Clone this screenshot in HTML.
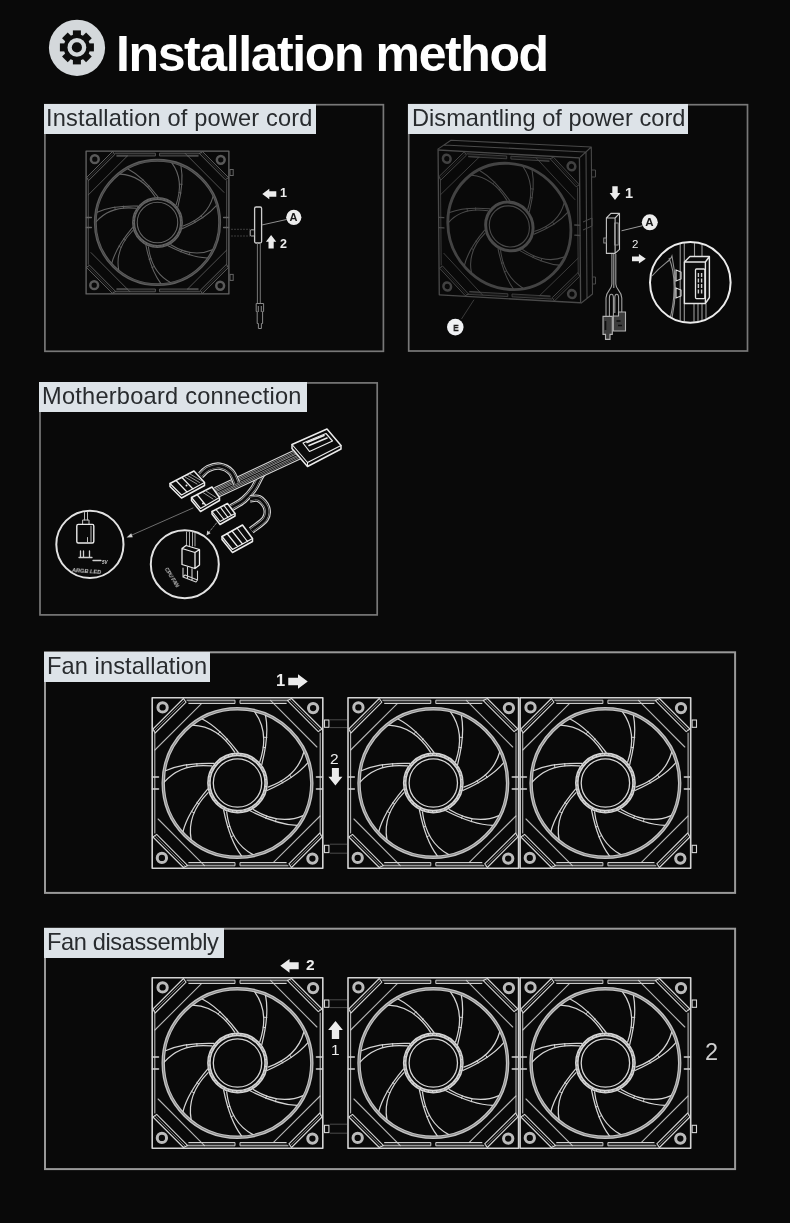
<!DOCTYPE html>
<html lang="en"><head><meta charset="utf-8"><title>Installation method</title>
<style>
html,body{margin:0;padding:0;background:#090909;}
body{-webkit-font-smoothing:antialiased;width:790px;height:1223px;position:relative;overflow:hidden;font-family:"Liberation Sans","Noto Sans CJK SC",sans-serif;}
.title{position:absolute;left:116px;top:24px;margin:0;font-size:50px;line-height:60px;font-weight:700;color:#fff;white-space:nowrap;letter-spacing:-1.4px;transform-origin:0 0;}
.lab{position:absolute;background:#dde3e8;color:#282b2e;font-size:23.6px;line-height:28px;white-space:nowrap;overflow:hidden;}
.lab span{position:absolute;top:0;display:block;transform-origin:0 0;white-space:nowrap;}
.n,.c,.t,.title,.lab span{will-change:transform;}
.n{position:absolute;color:#ececec;font-weight:700;line-height:1;white-space:nowrap;}
.c{position:absolute;color:#161616;font-weight:700;line-height:1;white-space:nowrap;text-align:center;}
.t{position:absolute;color:#cfcfcf;font-size:5px;line-height:1;font-style:italic;font-weight:700;white-space:nowrap;transform-origin:0 0;}
</style></head><body>
<svg width="790" height="1223" viewBox="0 0 790 1223" style="position:absolute;left:0;top:0">
<defs>
<g id="fan" fill="none" stroke="currentColor" stroke-linecap="round" stroke-linejoin="round">
<rect x="0.7" y="0.7" width="170.6" height="170.6" stroke-width="1.6"/>
<g transform="rotate(0 86 86)">
<circle cx="11.1" cy="10.4" r="4.65" stroke-width="3" opacity=".88"/>
<path d="M32 1.5 L1.5 32 L3.6 36 L34.6 5.2 Z" stroke-width="1.1"/>
<path d="M33.3 3.3 L2.5 34" stroke-width="0.7" opacity=".7"/>
<path d="M50 6.6 L3.4 53" stroke-width="1.1" opacity=".85"/>
<path d="M35.5 3.2 H83.5 V6.5 H37.5 M136.5 3.2 H88.5 V6.5 H134.5" stroke-width="1" fill="currentColor" fill-opacity=".22" opacity=".95"/>
<path d="M50 6.5 H37.5 M122 6.5 H134.5" stroke-width="1" opacity=".9"/>
</g>
<g transform="rotate(90 86 86)">
<circle cx="11.1" cy="10.4" r="4.65" stroke-width="3" opacity=".88"/>
<path d="M32 1.5 L1.5 32 L3.6 36 L34.6 5.2 Z" stroke-width="1.1"/>
<path d="M33.3 3.3 L2.5 34" stroke-width="0.7" opacity=".7"/>
<path d="M50 6.6 L3.4 53" stroke-width="1.1" opacity=".85"/>
<path d="M36 3.3 H136" stroke-width="1.1" opacity=".85"/>
</g>
<g transform="rotate(180 86 86)">
<circle cx="11.1" cy="10.4" r="4.65" stroke-width="3" opacity=".88"/>
<path d="M32 1.5 L1.5 32 L3.6 36 L34.6 5.2 Z" stroke-width="1.1"/>
<path d="M33.3 3.3 L2.5 34" stroke-width="0.7" opacity=".7"/>
<path d="M50 6.6 L3.4 53" stroke-width="1.1" opacity=".85"/>
<path d="M35.5 3.2 H83.5 V6.5 H37.5 M136.5 3.2 H88.5 V6.5 H134.5" stroke-width="1" fill="currentColor" fill-opacity=".22" opacity=".95"/>
<path d="M50 6.5 H37.5 M122 6.5 H134.5" stroke-width="1" opacity=".9"/>
</g>
<g transform="rotate(270 86 86)">
<circle cx="11.1" cy="10.4" r="4.65" stroke-width="3" opacity=".88"/>
<path d="M32 1.5 L1.5 32 L3.6 36 L34.6 5.2 Z" stroke-width="1.1"/>
<path d="M33.3 3.3 L2.5 34" stroke-width="0.7" opacity=".7"/>
<path d="M50 6.6 L3.4 53" stroke-width="1.1" opacity=".85"/>
<path d="M36 3.3 H136" stroke-width="1.1" opacity=".85"/>
</g>
<path d="M1 80 H7 M1 92 H7 M165 80 H171 M165 92 H171" stroke-width="1.6"/>
<circle cx="86" cy="86" r="74.3" stroke-width="3.4" opacity=".92"/>
<circle cx="86" cy="86" r="28.6" stroke-width="3.6"/>
<circle cx="86" cy="86" r="24.2" stroke-width="1.3"/>
<g transform="translate(86 86) rotate(0.00)" stroke-width="1.25">
<path d="M0.7 -30.5 Q-18 -55.2 -35.3 -64"/>
<path d="M-2.8 -30.8 Q-19.5 -56.8 -45 -57.8"/>
<path d="M-17.3 -51.4 L-19.3 -49.2 M-10 -44 L-12 -42.3" stroke-width=".9"/>
</g>
<g transform="translate(86 86) rotate(-51.43)" stroke-width="1.25">
<path d="M0.7 -30.5 Q-18 -55.2 -35.3 -64"/>
<path d="M-2.8 -30.8 Q-19.5 -56.8 -45 -57.8"/>
<path d="M-17.3 -51.4 L-19.3 -49.2 M-10 -44 L-12 -42.3" stroke-width=".9"/>
</g>
<g transform="translate(86 86) rotate(-102.86)" stroke-width="1.25">
<path d="M0.7 -30.5 Q-18 -55.2 -35.3 -64"/>
<path d="M-2.8 -30.8 Q-19.5 -56.8 -45 -57.8"/>
<path d="M-17.3 -51.4 L-19.3 -49.2 M-10 -44 L-12 -42.3" stroke-width=".9"/>
</g>
<g transform="translate(86 86) rotate(-154.29)" stroke-width="1.25">
<path d="M0.7 -30.5 Q-18 -55.2 -35.3 -64"/>
<path d="M-2.8 -30.8 Q-19.5 -56.8 -45 -57.8"/>
<path d="M-17.3 -51.4 L-19.3 -49.2 M-10 -44 L-12 -42.3" stroke-width=".9"/>
</g>
<g transform="translate(86 86) rotate(-205.71)" stroke-width="1.25">
<path d="M0.7 -30.5 Q-18 -55.2 -35.3 -64"/>
<path d="M-2.8 -30.8 Q-19.5 -56.8 -45 -57.8"/>
<path d="M-17.3 -51.4 L-19.3 -49.2 M-10 -44 L-12 -42.3" stroke-width=".9"/>
</g>
<g transform="translate(86 86) rotate(-257.14)" stroke-width="1.25">
<path d="M0.7 -30.5 Q-18 -55.2 -35.3 -64"/>
<path d="M-2.8 -30.8 Q-19.5 -56.8 -45 -57.8"/>
<path d="M-17.3 -51.4 L-19.3 -49.2 M-10 -44 L-12 -42.3" stroke-width=".9"/>
</g>
<g transform="translate(86 86) rotate(-308.57)" stroke-width="1.25">
<path d="M0.7 -30.5 Q-18 -55.2 -35.3 -64"/>
<path d="M-2.8 -30.8 Q-19.5 -56.8 -45 -57.8"/>
<path d="M-17.3 -51.4 L-19.3 -49.2 M-10 -44 L-12 -42.3" stroke-width=".9"/>
</g>
</g>
<g id="fanlines" fill="none" stroke="#0a0a0a"><circle cx="86" cy="86" r="74.3" stroke-width=".7" opacity=".45"/><circle cx="86" cy="86" r="28.6" stroke-width=".6" stroke-dasharray="3 1.2" opacity=".5"/></g>
</defs>
<circle cx="77" cy="47.8" r="28.1" fill="#d4d8db"/>
<g transform="translate(76.9 47.4)" fill="#0e0e0e"><circle r="13.2"/><rect x="-4" y="-17" width="8" height="8" transform="rotate(0)"/><rect x="-4" y="-17" width="8" height="8" transform="rotate(45)"/><rect x="-4" y="-17" width="8" height="8" transform="rotate(90)"/><rect x="-4" y="-17" width="8" height="8" transform="rotate(135)"/><rect x="-4" y="-17" width="8" height="8" transform="rotate(180)"/><rect x="-4" y="-17" width="8" height="8" transform="rotate(225)"/><rect x="-4" y="-17" width="8" height="8" transform="rotate(270)"/><rect x="-4" y="-17" width="8" height="8" transform="rotate(315)"/><circle r="9.4" fill="#d4d8db"/><circle r="5.1"/></g>
<rect x="44.9" y="104.7" width="338.5" height="246.6" fill="none" stroke="#787878" stroke-width="1.7"/>
<rect x="408.7" y="104.7" width="338.8" height="246.3" fill="none" stroke="#787878" stroke-width="1.7"/>
<rect x="40.0" y="382.9" width="337.2" height="232.0" fill="none" stroke="#787878" stroke-width="1.7"/>
<rect x="45.0" y="652.3" width="690.1" height="240.6" fill="none" stroke="#999999" stroke-width="2.0"/>
<rect x="45.0" y="928.7" width="690.1" height="240.4" fill="none" stroke="#999999" stroke-width="2.0"/>
<g transform="translate(151.5 697) scale(1.0)" style="color:#d4d4d4" ><use href="#fan"/><use href="#fanlines"/></g>
<g transform="translate(347.3 697) scale(1.0)" style="color:#d4d4d4" ><use href="#fan"/><use href="#fanlines"/></g>
<g transform="translate(519.4 697) scale(1.0)" style="color:#d4d4d4" ><use href="#fan"/><use href="#fanlines"/></g>
<rect x="324.5" y="720" width="4.4" height="7.3" fill="none" stroke="#d4d4d4" stroke-width="1.1"/>
<rect x="324.5" y="845.3" width="4.4" height="7.3" fill="none" stroke="#d4d4d4" stroke-width="1.1"/>
<rect x="692.1" y="720" width="4.4" height="7.3" fill="none" stroke="#d4d4d4" stroke-width="1.1"/>
<rect x="692.1" y="845.3" width="4.4" height="7.3" fill="none" stroke="#d4d4d4" stroke-width="1.1"/>
<path d="M330 719.8 H347" stroke="#4a4a4a" stroke-width="1"/>
<path d="M330 727.6 H347" stroke="#4a4a4a" stroke-width="1"/>
<path d="M330 844.2 H347" stroke="#4a4a4a" stroke-width="1"/>
<path d="M330 853.2 H347" stroke="#4a4a4a" stroke-width="1"/>
<g transform="translate(151.5 977) scale(1.0)" style="color:#d4d4d4" ><use href="#fan"/><use href="#fanlines"/></g>
<g transform="translate(347.3 977) scale(1.0)" style="color:#d4d4d4" ><use href="#fan"/><use href="#fanlines"/></g>
<g transform="translate(519.4 977) scale(1.0)" style="color:#d4d4d4" ><use href="#fan"/><use href="#fanlines"/></g>
<rect x="324.5" y="1000" width="4.4" height="7.3" fill="none" stroke="#d4d4d4" stroke-width="1.1"/>
<rect x="324.5" y="1125.3" width="4.4" height="7.3" fill="none" stroke="#d4d4d4" stroke-width="1.1"/>
<rect x="692.1" y="1000" width="4.4" height="7.3" fill="none" stroke="#d4d4d4" stroke-width="1.1"/>
<rect x="692.1" y="1125.3" width="4.4" height="7.3" fill="none" stroke="#d4d4d4" stroke-width="1.1"/>
<path d="M330 999.8 H347" stroke="#4a4a4a" stroke-width="1"/>
<path d="M330 1007.6 H347" stroke="#4a4a4a" stroke-width="1"/>
<path d="M330 1124.2 H347" stroke="#4a4a4a" stroke-width="1"/>
<path d="M330 1133.2 H347" stroke="#4a4a4a" stroke-width="1"/>
<polygon points="-9.75,-3.65 0.00,-3.65 0.00,-7.30 9.75,0.00 0.00,7.30 0.00,3.65 -9.75,3.65" fill="#ececec" transform="translate(298 681.5) rotate(0)"/>
<polygon points="-8.80,-3.50 0.00,-3.50 0.00,-7.00 8.80,0.00 0.00,7.00 0.00,3.50 -8.80,3.50" fill="#ececec" transform="translate(335.4 776.8) rotate(90)"/>
<polygon points="-9.20,-3.45 0.00,-3.45 0.00,-6.90 9.20,0.00 0.00,6.90 0.00,3.45 -9.20,3.45" fill="#ececec" transform="translate(289.5 965.8) rotate(180)"/>
<polygon points="-9.10,-3.67 0.00,-3.67 0.00,-7.35 9.10,0.00 0.00,7.35 0.00,3.67 -9.10,3.67" fill="#ececec" transform="translate(335.5 1030) rotate(270)"/>
<g transform="translate(85.5 150.5) scale(0.837)" style="color:#646464" ><use href="#fan"/><use href="#fanlines"/></g>
<rect x="230" y="169.5" width="3.2" height="6" fill="none" stroke="#646464" stroke-width="1"/>
<rect x="230" y="274.4" width="3.2" height="6" fill="none" stroke="#646464" stroke-width="1"/>
<path d="M231 229.3 H250 M231 236 H250" stroke="#3c3c3c" stroke-width="1" stroke-dasharray="2 1"/>
<rect x="254.6" y="207" width="7" height="36" rx="1.5" fill="#090909" stroke="#cdcdcd" stroke-width="1.3"/>
<rect x="250.2" y="229.8" width="4.3" height="6.2" rx="1" fill="none" stroke="#b5b5b5" stroke-width="1"/>
<path d="M257.4 243 V303.5 M260.3 243 V303.5" stroke="#777" stroke-width="1"/>
<path d="M256.2 303.5 h7.4 v8 h-1 v12 h-1.2 v5 h-3 v-5 h-1.2 v-12 h-1 z M258.3 306 v6 M261.3 306 v6" fill="none" stroke="#8a8a8a" stroke-width="1"/>
<path d="M261.8 225 L286.5 219.5" stroke="#8f8f8f" stroke-width="1"/>
<circle cx="293.8" cy="217.3" r="7.6" fill="#ececec"/>
<polygon points="-7.00,-2.65 0.00,-2.65 0.00,-5.30 7.00,0.00 0.00,5.30 0.00,2.65 -7.00,2.65" fill="#ececec" transform="translate(269.3 194) rotate(180)"/>
<polygon points="-6.80,-2.60 0.00,-2.60 0.00,-5.20 6.80,0.00 0.00,5.20 0.00,2.60 -6.80,2.60" fill="#ececec" transform="translate(271.1 241.8) rotate(270)"/>
<g transform="matrix(0.8285 0.0465 0.007 0.849 437.5 149.4)" style="color:#494949"><use href="#fan"/></g>
<path d="M437.5 149.4 L451 140.3 L591.3 147 L580 157.3 M591.3 147 L592.5 294 L581 303.2 M586 152 L587 298.5 M444 145 L585.5 152" fill="none" stroke="#494949" stroke-width="1.1" stroke-linejoin="round"/>
<path d="M592 170 h3.5 v7 h-3.5 M592 277 h3.5 v7 h-3.5 M583 222 l9 -4 v8 l-9 4" fill="none" stroke="#494949" stroke-width="1"/>
<path d="M474 299.7 L461.5 319" stroke="#3a3a3a" stroke-width="1"/>
<circle cx="455.3" cy="327.1" r="8.3" fill="#f0f2f4"/>
<polygon points="-6.90,-2.70 0.00,-2.70 0.00,-5.40 6.90,0.00 0.00,5.40 0.00,2.70 -6.90,2.70" fill="#ececec" transform="translate(615 193.1) rotate(90)"/>
<path d="M606.4 218 l4.5 -4.6 h8.6 v36 l-4.4 4 h-8.7 z M606.4 218 h8.7 v35.4 M615.1 218 l4.4 -4.6" fill="#090909" stroke="#c4c4c4" stroke-width="1.1" stroke-linejoin="round"/>
<rect x="614.6" y="223" width="3.6" height="22" fill="none" stroke="#9a9a9a" stroke-width=".9"/>
<rect x="603.8" y="238" width="2.6" height="5" fill="none" stroke="#9a9a9a" stroke-width=".9"/>
<path d="M621.5 230.8 L642.5 225.7" stroke="#9a9a9a" stroke-width="1"/>
<circle cx="649.8" cy="222.3" r="8" fill="#ececec"/>
<polygon points="-6.90,-2.40 0.00,-2.40 0.00,-4.80 6.90,0.00 0.00,4.80 0.00,2.40 -6.90,2.40" fill="#ececec" transform="translate(638.9 258.8) rotate(0)"/>
<path d="M611.9 254 V284 C611.9 290 606 291 606 298 V316 M615.8 254 V284 C615.8 290 621.8 291 621.8 298 V313 M613.8 254 V288" fill="none" stroke="#a2a2a2" stroke-width="1.1"/>
<path d="M609.4 316 V298 C609.4 293 613.4 293 613.4 298 V316 M614.8 313 V298 C614.8 293 618.6 293 618.6 298 V313" fill="none" stroke="#a2a2a2" stroke-width="1.1"/>
<path d="M603 316.4 h9.3 v18 h-2.3 v5 h-4.5 v-5 h-2.5 z" fill="#3d3d3d" stroke="#b4b4b4" stroke-width="1.1"/>
<path d="M613.3 316 h5.2 v-4 h7 v19 h-12.2 z" fill="#3d3d3d" stroke="#b4b4b4" stroke-width="1.1"/>
<path d="M605.5 321 v9 M616.5 321 h4 M618 325.5 h4" fill="none" stroke="#0d0d0d" stroke-width="1.6"/>
<clipPath id="bc"><circle cx="690.3" cy="282.4" r="39.6"/></clipPath>
<g clip-path="url(#bc)" fill="none" stroke="#bdbdbd" stroke-width="1.1">
<path d="M680.2 240 V330 M684.3 240 V330 M694.5 240 V258 M702 240 V258 M694 304 V330 M698 304 V330 M702 304 V330 M706 304 V330" opacity=".8"/>
<path d="M652 276 C664 262 670 262 672 256 C675 270 678 290 672 318 M669 258 C676 274 676 300 668 326" opacity=".75"/>
<path d="M676 270 l5 2 v7 l-5 2 z M676 288 l5 2 v6 l-5 2 z" stroke="#e0e0e0"/>
<path d="M684.4 262 l5.5 -5.5 h19.5 v41 l-4 6 h-21 z M684.4 262 h21 v41.5 M705.4 262 l4 -5.5" fill="#0b0b0b" stroke="#e4e4e4" stroke-width="1.4" stroke-linejoin="round"/>
<rect x="695.5" y="269" width="9.4" height="29.6" rx="1" stroke="#e4e4e4" stroke-width="1.3"/>
<path d="M698.4 273 v22 M701.6 273 v22" stroke="#cfcfcf" stroke-width="1.4" stroke-dasharray="4 1.5"/>
</g>
<circle cx="690.3" cy="282.4" r="40.3" fill="none" stroke="#ececec" stroke-width="2"/>
<g fill="none" stroke-linejoin="round" stroke-linecap="round">
<path d="M231.5 507.5 C233.5 506.2 240.0 503.1 243.7 499.9 C247.4 496.7 250.9 492.7 253.8 488.5 C256.8 484.3 258.7 478.4 261.4 474.6 C264.1 470.9 268.6 467.4 270.0 466.0" stroke="#d6d6d6" stroke-width="7.4" stroke-linecap="butt"/>
<path d="M231.5 507.5 C233.5 506.2 240.0 503.1 243.7 499.9 C247.4 496.7 250.9 492.7 253.8 488.5 C256.8 484.3 258.7 478.4 261.4 474.6 C264.1 470.9 268.6 467.4 270.0 466.0" stroke="#0b0b0b" stroke-width="5.2" stroke-linecap="butt"/>
<path d="M231.5 507.5 C233.5 506.2 240.0 503.1 243.7 499.9 C247.4 496.7 250.9 492.7 253.8 488.5 C256.8 484.3 258.7 478.4 261.4 474.6 C264.1 470.9 268.6 467.4 270.0 466.0" stroke="#9d9d9d" stroke-width="4.1" stroke-linecap="butt"/>
<path d="M231.5 507.5 C233.5 506.2 240.0 503.1 243.7 499.9 C247.4 496.7 250.9 492.7 253.8 488.5 C256.8 484.3 258.7 478.4 261.4 474.6 C264.1 470.9 268.6 467.4 270.0 466.0" stroke="#0b0b0b" stroke-width="2.7" stroke-linecap="butt"/>
<path d="M298.5 454.0 C284.8 460.4 230.2 486.0 216.5 492.4" stroke="#d6d6d6" stroke-width="11.4" stroke-linecap="butt"/>
<path d="M298.5 454.0 C284.8 460.4 230.2 486.0 216.5 492.4" stroke="#0b0b0b" stroke-width="9.2" stroke-linecap="butt"/>
<path d="M298.5 454.0 C284.8 460.4 230.2 486.0 216.5 492.4" stroke="#9d9d9d" stroke-width="7.9" stroke-linecap="butt"/>
<path d="M298.5 454.0 C284.8 460.4 230.2 486.0 216.5 492.4" stroke="#0b0b0b" stroke-width="6.5" stroke-linecap="butt"/>
<path d="M298.5 454.0 C284.8 460.4 230.2 486.0 216.5 492.4" stroke="#9d9d9d" stroke-width="5.1" stroke-linecap="butt"/>
<path d="M298.5 454.0 C284.8 460.4 230.2 486.0 216.5 492.4" stroke="#0b0b0b" stroke-width="3.7" stroke-linecap="butt"/>
<path d="M298.5 454.0 C284.8 460.4 230.2 486.0 216.5 492.4" stroke="#9d9d9d" stroke-width="2.5" stroke-linecap="butt"/>
<path d="M298.5 454.0 C284.8 460.4 230.2 486.0 216.5 492.4" stroke="#0b0b0b" stroke-width="1.1" stroke-linecap="butt"/>
<path d="M200.6 475.3 C201.9 474.2 205.0 470.2 208.2 468.7 C211.4 467.2 215.8 465.6 219.6 466.2 C223.4 466.8 228.2 469.1 231.0 472.0 C233.8 474.9 235.7 481.5 236.6 483.4" stroke="#d6d6d6" stroke-width="7.4" stroke-linecap="butt"/>
<path d="M200.6 475.3 C201.9 474.2 205.0 470.2 208.2 468.7 C211.4 467.2 215.8 465.6 219.6 466.2 C223.4 466.8 228.2 469.1 231.0 472.0 C233.8 474.9 235.7 481.5 236.6 483.4" stroke="#0b0b0b" stroke-width="5.2" stroke-linecap="butt"/>
<path d="M200.6 475.3 C201.9 474.2 205.0 470.2 208.2 468.7 C211.4 467.2 215.8 465.6 219.6 466.2 C223.4 466.8 228.2 469.1 231.0 472.0 C233.8 474.9 235.7 481.5 236.6 483.4" stroke="#9d9d9d" stroke-width="4.1" stroke-linecap="butt"/>
<path d="M200.6 475.3 C201.9 474.2 205.0 470.2 208.2 468.7 C211.4 467.2 215.8 465.6 219.6 466.2 C223.4 466.8 228.2 469.1 231.0 472.0 C233.8 474.9 235.7 481.5 236.6 483.4" stroke="#0b0b0b" stroke-width="2.7" stroke-linecap="butt"/>
<path d="M251.3 530.3 C253.6 528.4 262.7 522.7 265.2 518.9 C267.7 515.1 267.6 510.9 266.5 507.5 C265.4 504.1 261.6 500.0 258.9 498.6 C256.1 497.2 251.5 498.8 250.0 498.9" stroke="#d6d6d6" stroke-width="7.4" stroke-linecap="butt"/>
<path d="M251.3 530.3 C253.6 528.4 262.7 522.7 265.2 518.9 C267.7 515.1 267.6 510.9 266.5 507.5 C265.4 504.1 261.6 500.0 258.9 498.6 C256.1 497.2 251.5 498.8 250.0 498.9" stroke="#0b0b0b" stroke-width="5.2" stroke-linecap="butt"/>
<path d="M251.3 530.3 C253.6 528.4 262.7 522.7 265.2 518.9 C267.7 515.1 267.6 510.9 266.5 507.5 C265.4 504.1 261.6 500.0 258.9 498.6 C256.1 497.2 251.5 498.8 250.0 498.9" stroke="#9d9d9d" stroke-width="4.1" stroke-linecap="butt"/>
<path d="M251.3 530.3 C253.6 528.4 262.7 522.7 265.2 518.9 C267.7 515.1 267.6 510.9 266.5 507.5 C265.4 504.1 261.6 500.0 258.9 498.6 C256.1 497.2 251.5 498.8 250.0 498.9" stroke="#0b0b0b" stroke-width="2.7" stroke-linecap="butt"/>
<path d="M292 444.5 L327 429 L341 445.5 L341 449 L307.5 466.5 L292 448.5 Z" fill="#0b0b0b" stroke="#ececec" stroke-width="1.5"/>
<path d="M292 444.5 L307.5 462.5 L341 445.5 M307.5 462.5 V466.5" stroke="#ececec" stroke-width="1.1"/>
<path d="M303 443 L326 433.5 L332.5 441 L309.5 451.5 Z" stroke="#ececec" stroke-width="1.2"/>
<path d="M307 442.5 L324 435.5 M309 445.5 L327 438" stroke="#ececec" stroke-width="1.6"/>
<path d="M170 483.5 L194 471 L204.5 482.5 L204.5 485.5 L181.5 498 L170 486.5 Z" fill="#0b0b0b" stroke="#ececec" stroke-width="1.5"/>
<path d="M170 483.5 L181.5 495 L204.5 482.5 M176 480.5 L187 492 M182 477.5 L193 489" stroke="#ececec" stroke-width="1.2"/>
<path d="M185 477 L197 484 M187.5 475.5 L199.5 482.5 M190 474 L202 481" stroke="#a8a8a8" stroke-width=".9"/>
<path d="M191.5 497.5 L212 487 L219.5 497.5 L219.5 500.5 L200.5 511.5 L191.5 500.5 Z" fill="#0b0b0b" stroke="#ececec" stroke-width="1.5"/>
<path d="M191.5 497.5 L200.5 508.5 L219.5 497.5 M197 494.5 L206 505.5" stroke="#ececec" stroke-width="1.2"/>
<path d="M203 492.5 L213 499 M206 491 L216 497.5" stroke="#a8a8a8" stroke-width=".9"/>
<circle cx="203" cy="503.5" r="1" fill="#ececec" stroke="none"/><circle cx="186.5" cy="485.5" r="1" fill="#ececec" stroke="none"/>
<path d="M212 511.5 L227.5 503.5 L235 513.5 L235 516 L220 524.5 L212 514 Z" fill="#0b0b0b" stroke="#ececec" stroke-width="1.5"/>
<path d="M212 511.5 L220 521.5 L235 513.5 M216 509.5 L224 519.5 M220.5 507.5 L228 517.5 M224 505.5 L231.5 515.5" stroke="#ececec" stroke-width="1.2"/>
<path d="M222 536.5 L242.5 525 L252.5 538.5 L252.5 541.5 L232.5 552.5 L222 539.5 Z" fill="#0b0b0b" stroke="#ececec" stroke-width="1.5"/>
<path d="M222 536.5 L232.5 549.5 L252.5 538.5 M227 533.5 L237.5 546.5 M232 531 L242.5 544 M237 528 L247.5 541.5" stroke="#ececec" stroke-width="1.2"/>
<path d="M193 508 L129 536.3" stroke="#6e6e6e" stroke-width="1"/>
<polygon points="126.5,537.4 131.2,533.2 132.8,537.2" fill="#cfcfcf"/>
<path d="M216.5 523 L208 533.5" stroke="#8a8a8a" stroke-width="1" stroke-dasharray="2 1.5"/>
<polygon points="206.5,535.5 207.3,530.6 210.6,533.2" fill="#cfcfcf"/>
<circle cx="89.9" cy="544.4" r="33.6" stroke="#e2e2e2" stroke-width="2"/>
<circle cx="184.8" cy="564.2" r="34" stroke="#e2e2e2" stroke-width="2"/>
<path d="M84.5 512.5 V520 M87.5 512.5 V520 M83 520 h6 v4.5 h-6 z" stroke="#bcbcbc" stroke-width="1"/>
<rect x="76.8" y="524.4" width="17" height="18.6" rx="1.5" stroke="#ececec" stroke-width="1.4"/>
<path d="M91 526 V541.5 M87.5 537.5 V543" stroke="#bcbcbc" stroke-width="1"/>
<path d="M80.5 551 v6 M83.5 551 v6 M89.5 551 v6 M79 557.5 h13 M93 560.5 h8" stroke="#cfcfcf" stroke-width="1.3"/>
<path d="M186.5 532 V546 M189.5 532 V546 M192.5 532 V546 M195 533 V546" stroke="#a8a8a8" stroke-width="1"/>
<path d="M182 548.5 L186 545.5 L199.5 549.5 L199.5 565 L195 568.5 L182 564.5 Z M182 548.5 L195 552.5 L199.5 549.5 M195 552.5 V568.5" fill="#0b0b0b" stroke="#ececec" stroke-width="1.3"/>
<path d="M183 568 L183 577 L196 582 L197.5 580 L197.5 571 M187.5 567 V578.5 M192 568.5 V580 M183 577 L185 575 L197.5 580" stroke="#cfcfcf" stroke-width="1.1"/>
</g>
</svg>
<h1 class="title" id="title">Installation method</h1>
<div class="lab" style="left:43.8px;top:104px;width:272.2px;height:29.5px"><span id="lab0" style="left:2.4px;letter-spacing:0.16px">Installation of power cord</span></div>
<div class="lab" style="left:408px;top:104px;width:280px;height:29.5px"><span id="lab1" style="left:4.0px;letter-spacing:0.03px">Dismantling of power cord</span></div>
<div class="lab" style="left:39px;top:382px;width:268px;height:29.6px"><span id="lab2" style="left:3.4px;letter-spacing:0.24px">Motherboard connection</span></div>
<div class="lab" style="left:43.9px;top:651.8px;width:166.2px;height:29.8px"><span id="lab3" style="left:3.5px;letter-spacing:0.1px">Fan installation</span></div>
<div class="lab" style="left:43.9px;top:928px;width:180.1px;height:29.8px"><span id="lab4" style="left:3.1px;letter-spacing:-0.37px">Fan disassembly</span></div>
<div class="n" style="left:280.3px;top:186.5px;font-size:12.5px;">1</div>
<div class="n" style="left:279.8px;top:237.8px;font-size:12.5px;">2</div>
<div class="c" style="left:289.4px;top:211.9px;font-size:11px;width:9px">A</div>
<div class="n" style="left:625.3px;top:185.6px;font-size:14.5px;">1</div>
<div class="n" style="left:632.2px;top:238.6px;font-size:11.5px;font-weight:400">2</div>
<div class="c" style="left:645.4px;top:217.2px;font-size:11.5px;width:9px">A</div>
<div class="c" style="left:451.5px;top:322.6px;font-size:9.5px;width:8px;transform:scaleX(.85);-webkit-text-stroke:.4px #161616">E</div>
<div class="n" style="left:276.2px;top:671.6px;font-size:16.5px;">1</div>
<div class="n" style="left:329.8px;top:750.8px;font-size:15.5px;font-weight:400">2</div>
<div class="n" style="left:306.3px;top:957.3px;font-size:15.5px;">2</div>
<div class="n" style="left:331.3px;top:1042.3px;font-size:15.5px;font-weight:400">1</div>
<div class="n" style="left:704.6px;top:1041.2px;font-size:23.5px;font-weight:400;color:#cfcfcf">2</div>
<div class="t" style="left:72.3px;top:568.3px;font-size:5.6px;transform:rotate(4deg)">ARGB LED</div>
<div class="t" style="left:101.5px;top:560.8px;font-size:4.5px">5V</div>
<div class="t" style="left:167.5px;top:566.5px;transform:rotate(58deg)">CPU FAN</div>
</body></html>
